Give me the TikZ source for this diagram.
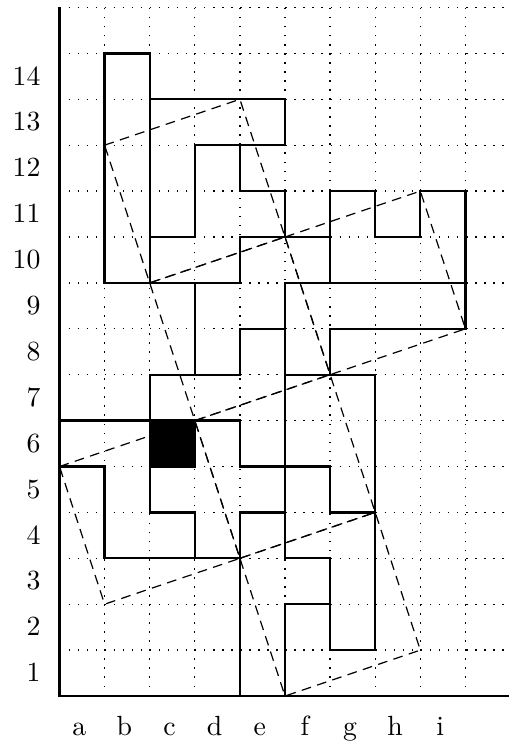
\documentclass[tikz,border=0pt]{standalone}
\usepackage{fontspec}
\usepackage{tikz}
\usetikzlibrary{calc}

\begin{document}
\begin{tikzpicture}[x=0.9826cm,y=1cm,
    piece/.style={line width=1.4pt, line join=miter},
    gridline/.style={dash pattern=on 0.9pt off 4.7pt, line width=0.8pt},
    tilt/.style={dash pattern=on 6pt off 4pt, line width=0.75pt}]
    \tikzset{lab/.style={font=\normalsize, scale=1.72, transform shape, inner sep=0pt}}
    \useasboundingbox (-1.319,-1.176) rectangle (9.945,15.163);
    % dotted grid
    \foreach \x in {1,...,9} \draw[gridline] (\x,0) -- (\x,15);
    \foreach \y in {1,...,15} \draw[gridline] (0,\y) -- (10,\y);
    % axes
    \draw[line width=1.3pt] (0,15) -- (0,0) -- (10,0);
    % labels
    \foreach \l [count=\i] in {a,b,c,d,e,f,g,h,i}
    \node[lab, anchor=base] (col\l) at (\i-0.56,-0.85) {\l};
    \foreach \r in {1,...,14}
    \node[lab, anchor=base east] (row\r) at (-0.41,\r-0.69) {\r};

    % corners of the tilted squares
    \coordinate (p1) at (1,12);  \coordinate (p2) at (4,13);
    \coordinate (p3) at (5,10);  \coordinate (p4) at (2,9);
    \coordinate (p5) at (8,11);  \coordinate (p6) at (9,8);
    \coordinate (p7) at (6,7);   \coordinate (p8) at (3,6);
    \coordinate (p9) at (0,5);   \coordinate (p10) at (1,2);
    \coordinate (p11) at (4,3);  \coordinate (p12) at (7,4);
    \coordinate (p13) at (5,0);  \coordinate (p14) at (8,1);

    \draw[tilt] (p1) -- (p2) -- (p3) -- (p4) -- cycle;
    \draw[tilt] (p3) -- (p5) -- (p6) -- (p7) -- cycle;
    \draw[tilt] (p4) -- (p3) -- (p7) -- (p8) -- cycle;
    \draw[tilt] (p9) -- (p8) -- (p11) -- (p10) -- cycle;
    \draw[tilt] (p8) -- (p7) -- (p12) -- (p11) -- cycle;
    \draw[tilt] (p11) -- (p12) -- (p14) -- (p13) -- cycle;

    % the pieces
    \draw[piece] (1,9) rectangle (2,14);
    \draw[piece] (2,10) -- (2,13) -- (5,13) -- (5,12) -- (3,12) -- (3,10) -- cycle;
    \draw[piece] (2,9) -- (2,10) -- (3,10) -- (3,12) -- (4,12) -- (4,11) -- (5,11) -- (5,10) -- (4,10) -- (4,9) -- cycle;
    \draw[piece] (6,9) -- (6,11) -- (7,11) -- (7,10) -- (8,10) -- (8,11) -- (9,11) -- (9,9) -- cycle;
    \draw[piece] (5,7) -- (5,9) -- (9,9) -- (9,8) -- (6,8) -- (6,7) -- cycle;
    \draw[piece] (3,7) -- (3,9) -- (4,9) -- (4,10) -- (6,10) -- (6,9) -- (5,9) -- (5,8) -- (4,8) -- (4,7) -- cycle;
    \draw[piece] (0,5) -- (0,6) -- (2,6) -- (2,4) -- (3,4) -- (3,3) -- (1,3) -- (1,5) -- cycle;
    \draw[piece] (3,3) -- (3,4) -- (2,4) -- (2,5) -- (3,5) -- (3,6) -- (4,6) -- (4,5) -- (5,5) -- (5,4) -- (4,4) -- (4,3) -- cycle;
    \draw[piece] (2,6) -- (2,7) -- (4,7) -- (4,8) -- (5,8) -- (5,5) -- (4,5) -- (4,6) -- cycle;
    \draw[piece] (5,5) -- (5,7) -- (7,7) -- (7,4) -- (6,4) -- (6,5) -- cycle;
    \draw[piece] (5,3) -- (5,5) -- (6,5) -- (6,4) -- (7,4) -- (7,1) -- (6,1) -- (6,3) -- cycle;
    \draw[piece] (4,0) -- (4,4) -- (5,4) -- (5,3) -- (6,3) -- (6,2) -- (5,2) -- (5,0) -- cycle;
    \fill[black] (2,5) rectangle (3,6);
\end{tikzpicture}
\end{document}
